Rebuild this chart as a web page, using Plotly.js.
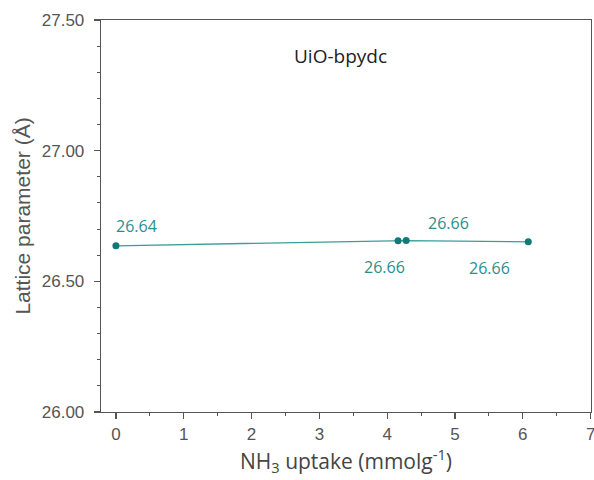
<!DOCTYPE html>
<html>
<head>
<meta charset="utf-8">
<script src="https://cdn.plot.ly/plotly-3.0.1.min.js"></script>
<style>html,body{margin:0;padding:0;background:#fff;}#chart{width:594px;height:480px;}</style>
</head>
<body>
<div id="chart"></div>
<script>
var uptake = [0, 4.16, 4.28, 6.08];
var lattice = [26.636, 26.655, 26.656, 26.651];
var labels = ['26.64', '26.66', '26.66', '26.66'];
var xTicks = [0, 1, 2, 3, 4, 5, 6, 7];
var yTicks = [26.00, 26.50, 27.00, 27.50];
var yTickText = ['26.00', '26.50', '27.00', '27.50'];
var panelTitle = 'UiO-bpydc';

// label placement (pixel offsets from each point: [dx, dy])
var labelOffsets = [[21, 20], [-14, -26], [42, 18], [-39, -26]];

var annotations = uptake.map(function (x, i) {
  return {
    x: x, y: lattice[i], xref: 'x', yref: 'y',
    text: labels[i], showarrow: false,
    xanchor: 'center', yanchor: 'middle',
    xshift: labelOffsets[i][0], yshift: labelOffsets[i][1],
    font: {family: 'Open Sans, sans-serif', size: 16, color: '#2a8f8c'}
  };
});
annotations.push({
  x: 0.488, y: 0.908, xref: 'paper', yref: 'paper', text: panelTitle, showarrow: false,
  xanchor: 'center', yanchor: 'middle',
  font: {family: 'Open Sans, sans-serif', size: 19, color: '#222'}
});

var trace = {
  x: uptake, y: lattice, type: 'scatter', mode: 'lines+markers',
  line: {color: '#3a9e9c', width: 1.3},
  marker: {color: '#0e7b79', size: 7},
  hoverinfo: 'skip', cliponaxis: false
};

var axisCommon = {
  showline: true, linecolor: '#555', linewidth: 1.3, mirror: true,
  ticks: 'outside', ticklen: 6, tickwidth: 1.2, tickcolor: '#555',
  showgrid: false, zeroline: false, ticklabeloverflow: 'allow',
  tickfont: {family: 'Liberation Sans, Arial, sans-serif', size: 17, color: '#555'}
};

var layout = {
  width: 594, height: 480,
  margin: {l: 101, r: 3, t: 20, b: 68},
  paper_bgcolor: '#fff', plot_bgcolor: '#fff',
  showlegend: false,
  xaxis: Object.assign({}, axisCommon, {
    range: [-0.22, 7.005], tickmode: 'array', tickvals: xTicks,
    minor: {ticks: 'outside', ticklen: 3, tickwidth: 1, tickcolor: '#555', dtick: 0.5, tick0: 0},
    title: {text: 'NH<sub>3</sub> uptake (mmolg<sup>-1</sup>)', standoff: 9,
            font: {family: 'Open Sans, sans-serif', size: 21, color: '#444'}}
  }),
  yaxis: Object.assign({}, axisCommon, {
    range: [26.0, 27.5], tickmode: 'array', tickvals: yTicks, ticktext: yTickText,
    ticklabelstandoff: 6,
    minor: {ticks: 'outside', ticklen: 3, tickwidth: 1, tickcolor: '#555', dtick: 0.1, tick0: 26},
    title: {text: 'Lattice parameter (Å)', standoff: 5,
            font: {family: 'Liberation Sans, Arial, sans-serif', size: 21, color: '#555'}}
  }),
  annotations: annotations
};

Plotly.newPlot('chart', [trace], layout, {displayModeBar: false, staticPlot: true});
</script>
</body>
</html>
